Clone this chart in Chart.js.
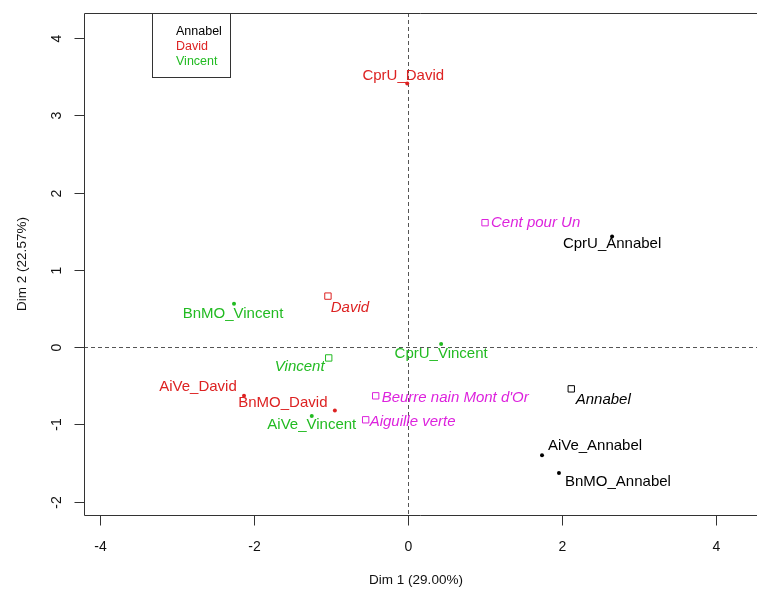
<!DOCTYPE html>
<html>
<head>
<meta charset="utf-8">
<script src="https://cdn.jsdelivr.net/npm/chart.js@4.4.0/dist/chart.umd.min.js"></script>
<style>
  body { margin: 0; background: #fff; }
  canvas { display: block; }
</style>
</head>
<body>
<canvas id="mfaChart" width="757" height="592"></canvas>
<script>
// individuals: product x taster
const indNames = ['CprU_David', 'CprU_Annabel', 'BnMO_Vincent', 'CprU_Vincent', 'AiVe_David',
                  'BnMO_David', 'AiVe_Vincent', 'AiVe_Annabel', 'BnMO_Annabel'];
const indTaster = ['David', 'Annabel', 'Vincent', 'Vincent', 'David',
                   'David', 'Vincent', 'Annabel', 'Annabel'];
const indDim1 = [-0.01, 2.65, -2.26, 0.43, -2.13, -0.95, -1.25, 1.74, 1.96];
const indDim2 = [3.41, 1.43, 0.56, 0.04, -0.63, -0.82, -0.89, -1.40, -1.63];

// tasters (groups)
const tasters = ['Annabel', 'David', 'Vincent'];
const tasterDim1 = [2.12, -1.04, -1.03];
const tasterDim2 = [-0.54, 0.66, -0.14];

// supplementary products
const products = ['Cent pour Un', "Beurre nain Mont d'Or", 'Aiguille verte'];
const productDim1 = [1.00, -0.42, -0.55];
const productDim2 = [1.61, -0.63, -0.94];

const xTicks = [-4, -2, 0, 2, 4];
const yTicks = [-2, -1, 0, 1, 2, 3, 4];
const xTitle = 'Dim 1 (29.00%)';
const yTitle = 'Dim 2 (22.57%)';

const tasterColours = { Annabel: '#000000', David: '#dd2222', Vincent: '#22bb22' };
const productColour = '#dd22dd';

// label placement relative to each point, in pixels
const labelNudge = {
  'CprU_David': [-4, -8], 'CprU_Annabel': [0, 7], 'BnMO_Vincent': [-1, 10],
  'CprU_Vincent': [0, 10], 'AiVe_David': [-46, -9], 'BnMO_David': [-52, -8],
  'AiVe_Vincent': [0, 9], 'AiVe_Annabel': [53, -9], 'BnMO_Annabel': [59, 9],
  'Annabel': [32, 11], 'David': [22, 12], 'Vincent': [-29, 9],
  'Cent pour Un': [6, 0], "Beurre nain Mont d'Or": [6, 2], 'Aiguille verte': [4, 2]
};

const FONT = '"Liberation Sans", Arial, sans-serif';

function pointsOf(xs, ys, keep) {
  const out = [];
  xs.forEach((v, i) => { if (keep(i)) out.push({ x: v, y: ys[i] }); });
  return out;
}

const datasets = [];
tasters.forEach(t => {
  const keep = i => indTaster[i] === t;
  datasets.push({
    label: t + ' individuals',
    data: pointsOf(indDim1, indDim2, keep),
    names: indNames.filter((n, i) => keep(i)),
    italic: false, labelAlign: 'center',
    pointStyle: 'circle', pointRadius: 2,
    backgroundColor: tasterColours[t], borderColor: tasterColours[t], borderWidth: 0
  });
});
datasets.push({
  label: 'tasters',
  data: pointsOf(tasterDim1, tasterDim2, () => true),
  names: tasters,
  italic: true, labelAlign: 'center',
  pointStyle: 'rect', pointRadius: 4.5,
  backgroundColor: 'rgba(0,0,0,0)',
  borderColor: tasters.map(t => tasterColours[t]), borderWidth: 1
});
datasets.push({
  label: 'products',
  data: pointsOf(productDim1, productDim2, () => true),
  names: products,
  italic: true, labelAlign: 'left',
  pointStyle: 'rect', pointRadius: 4.5,
  backgroundColor: 'rgba(0,0,0,0)', borderColor: productColour, borderWidth: 1
});

function labelColour(ds, name) {
  if (ds.label === 'products') return productColour;
  if (tasterColours[name]) return tasterColours[name];
  return tasterColours[indTaster[indNames.indexOf(name)]];
}

const decor = {
  id: 'decor',
  beforeDatasetsDraw(chart) {
    const { ctx, chartArea: a, scales: { x, y } } = chart;
    ctx.save();
    ctx.strokeStyle = '#555';
    ctx.lineWidth = 1;
    ctx.setLineDash([4, 3]);
    const x0 = Math.round(x.getPixelForValue(0)) + 0.5;
    const y0 = Math.round(y.getPixelForValue(0)) + 0.5;
    ctx.beginPath();
    ctx.moveTo(x0, a.top); ctx.lineTo(x0, a.bottom);
    ctx.moveTo(a.left, y0); ctx.lineTo(a.right, y0);
    ctx.stroke();
    ctx.restore();
  },
  afterDatasetsDraw(chart) {
    const ctx = chart.ctx;
    ctx.save();
    ctx.textBaseline = 'middle';
    chart.data.datasets.forEach((ds, i) => {
      const meta = chart.getDatasetMeta(i);
      ctx.font = (ds.italic ? 'italic ' : '') + '15px ' + FONT;
      ctx.textAlign = ds.labelAlign;
      meta.data.forEach((pt, j) => {
        const name = ds.names[j];
        const d = labelNudge[name] || [0, 0];
        ctx.fillStyle = labelColour(ds, name);
        ctx.fillText(name, pt.x + d[0], pt.y + d[1]);
      });
    });
    ctx.restore();
  },
  afterDraw(chart) {
    const { ctx, chartArea: a, scales: { x, y } } = chart;
    const L = a.left + 0.5, T = a.top + 0.5, B = a.bottom + 0.5;
    ctx.save();
    ctx.strokeStyle = '#333';
    ctx.lineWidth = 1;
    // frame (right side runs off the picture)
    ctx.beginPath();
    ctx.moveTo(a.right, T); ctx.lineTo(L, T); ctx.lineTo(L, B); ctx.lineTo(a.right, B);
    ctx.stroke();

    ctx.fillStyle = '#111';
    ctx.font = '14px ' + FONT;
    // x axis ticks
    ctx.textAlign = 'center';
    ctx.textBaseline = 'middle';
    x.ticks.forEach(t => {
      const px = Math.round(x.getPixelForValue(t.value)) + 0.5;
      ctx.beginPath(); ctx.moveTo(px, B); ctx.lineTo(px, B + 10); ctx.stroke();
      ctx.fillText(String(t.value), px, a.bottom + 32);
    });
    // y axis ticks, labels turned like R
    y.ticks.forEach(t => {
      const py = Math.round(y.getPixelForValue(t.value)) + 0.5;
      ctx.beginPath(); ctx.moveTo(L, py); ctx.lineTo(L - 10, py); ctx.stroke();
      ctx.save();
      ctx.translate(a.left - 27, py);
      ctx.rotate(-Math.PI / 2);
      ctx.fillText(String(t.value), 0, 0);
      ctx.restore();
    });
    // titles
    ctx.font = '13.5px ' + FONT;
    ctx.fillText(xTitle, 416, 580);
    ctx.save();
    ctx.translate(22, (a.top + a.bottom) / 2);
    ctx.rotate(-Math.PI / 2);
    ctx.fillText(yTitle, 0, 0);
    ctx.restore();

    // legend box
    ctx.strokeRect(152.5, T, 78, 64);
    ctx.font = '12.5px ' + FONT;
    ctx.textAlign = 'left';
    tasters.forEach((t, i) => {
      ctx.fillStyle = tasterColours[t];
      ctx.fillText(t, 176, 31.5 + i * 15);
    });
    ctx.restore();
  }
};

new Chart(document.getElementById('mfaChart'), {
  type: 'scatter',
  data: { datasets: datasets },
  options: {
    responsive: false,
    animation: false,
    layout: { autoPadding: false, padding: { top: 13, right: 0, bottom: 0, left: 0 } },
    plugins: { legend: { display: false }, tooltip: { enabled: false } },
    scales: {
      x: {
        type: 'linear', min: -4.208, max: 4.532,
        afterBuildTicks: s => { s.ticks = xTicks.map(v => ({ value: v })); },
        afterFit: s => { s.height = 77; },
        grid: { display: false }, border: { display: false }, ticks: { display: false }
      },
      y: {
        type: 'linear', min: -2.172, max: 4.323,
        afterBuildTicks: s => { s.ticks = yTicks.map(v => ({ value: v })); },
        afterFit: s => { s.width = 84; },
        grid: { display: false }, border: { display: false }, ticks: { display: false }
      }
    }
  },
  plugins: [decor]
});
</script>
</body>
</html>
